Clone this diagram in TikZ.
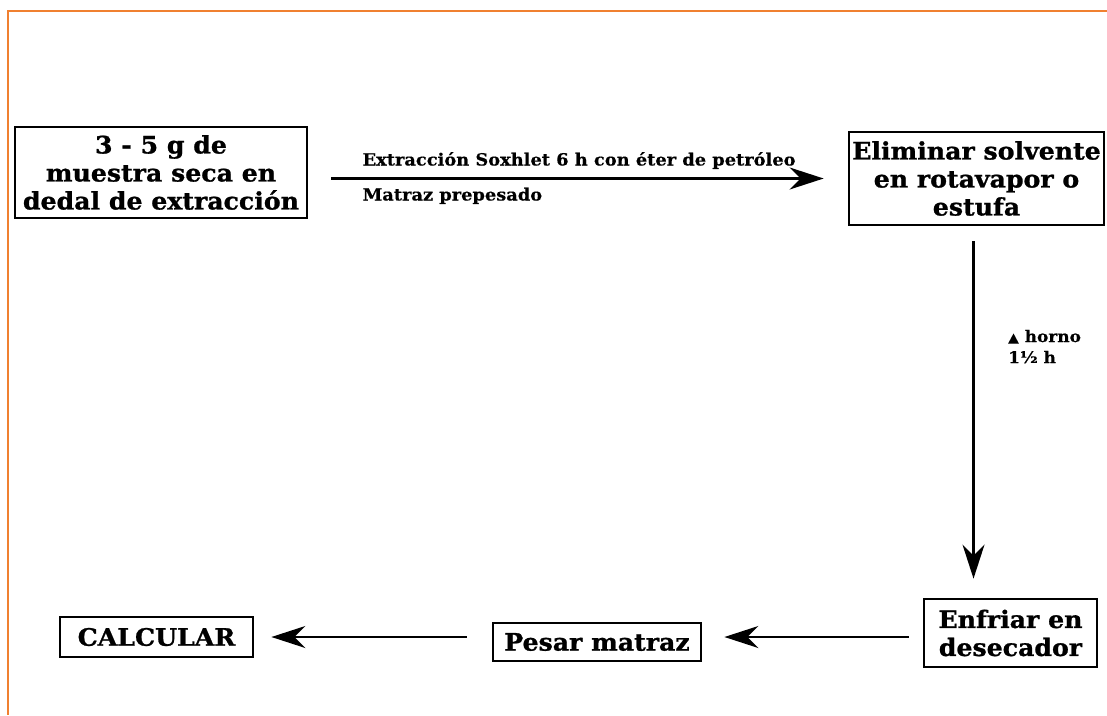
\documentclass[tikz,border=0pt]{standalone}
\usepackage{fontspec}
\setmainfont{DejaVu Serif}
\newfontfamily\widebold{DejaVu Serif}[FakeStretch=1.05, FakeBold=1.0]
\newfontfamily\widenote{DejaVu Serif}[FakeStretch=1.06, FakeBold=0.4]
\usetikzlibrary{arrows.meta}
\tikzset{
  stepbox/.style={draw=black, line width=2.8pt, fill=white, inner sep=0pt,
    align=center, font=\fontsize{24}{28}\widebold\bfseries},
  flow/.style={line width=2.4pt,
    -{Stealth[length=34pt,width=22pt,inset=11pt]}},
  note/.style={inner sep=0pt, font=\fontsize{16.8}{20}\widenote\bfseries},
}
\begin{document}
\begin{tikzpicture}[x=1pt,y=-1pt]
  \useasboundingbox (0,0) rectangle (1107,715);
  % orange frame (top and left edges)
  \draw[color={rgb,255:red,240;green,128;blue,48}, line width=2pt]
    (1107,11) -- (8,11) -- (8,715);

  % process steps
  \node[stepbox, minimum width=292pt, minimum height=91pt] (muestra) at (161,172.5)
    {3 - 5 g de\\muestra seca en\\dedal de extracción};
  \node[stepbox, minimum width=255pt, minimum height=93pt] (eliminar) at (976.5,178.5)
    {Eliminar solvente\\en rotavapor o\\estufa};
  \node[stepbox, minimum width=173pt, minimum height=68pt] (enfriar) at (1010.5,633)
    {Enfriar en\\desecador};
  \node[stepbox, minimum width=208pt, minimum height=38pt] (pesar) at (597,642)
    {Pesar matraz};
  \node[stepbox, minimum width=193pt, minimum height=40pt] (calcular) at (156.5,637)
    {CALCULAR};

  % connectors
  \draw[flow, shorten <=23pt, shorten >=24pt] (muestra.east |- eliminar.west) -- (eliminar.west)
    node[note, pos=0, anchor=base west, xshift=53pt, yshift=13pt]
      {Extracción Soxhlet 6 h con éter de petróleo}
    node[note, pos=0, anchor=base west, xshift=53pt, yshift=-22pt]
      {Matraz prepesado};
  \draw[flow, shorten <=15pt, shorten >=19pt] ([xshift=-3pt]eliminar.south) -- ([xshift=-3pt]eliminar.south |- enfriar.north);
  \node[note, font=\fontsize{16}{21}\widenote\bfseries, anchor=base west, align=left] (calor) at (1008,363)
    {{\fontsize{13}{13}\selectfont ▲} horno\\1½ h};
  \draw[flow, shorten <=14pt, shorten >=22pt] (enfriar.west |- calcular.east) -- (pesar.east |- calcular.east);
  \draw[flow, shorten <=25pt, shorten >=17pt] (pesar.west |- calcular.east) -- (calcular.east);
\end{tikzpicture}
\end{document}
